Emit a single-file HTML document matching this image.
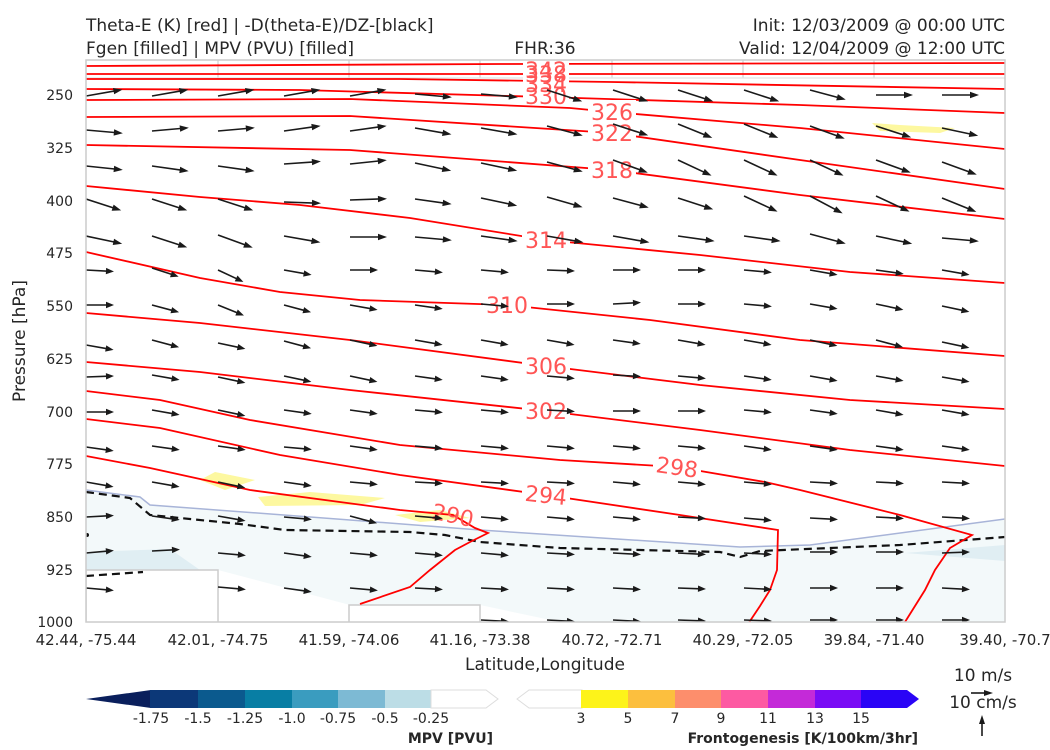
<!DOCTYPE html>
<html><head><meta charset="utf-8">
<style>
html,body{margin:0;padding:0;background:#fff;}
svg{display:block;font-family:"DejaVu Sans","Liberation Sans",sans-serif;}
</style></head>
<body>
<svg width="1050" height="750" viewBox="0 0 1050 750" xmlns="http://www.w3.org/2000/svg">
<defs>
<g id="aL"><line x1="0" y1="0" x2="30" y2="0" stroke="#1a1a1a" stroke-width="1.6"/><path d="M28,-3.2 L37,0 L28,3.2z" fill="#1a1a1a"/></g>
<g id="aS"><line x1="0" y1="0" x2="22" y2="0" stroke="#1a1a1a" stroke-width="1.6"/><path d="M20,-3.2 L28,0 L20,3.2z" fill="#1a1a1a"/></g>
<clipPath id="pc"><rect x="86" y="60" width="919" height="562"/></clipPath>
</defs>
<g fill="#262626" font-size="17">
<text x="86" y="31">Theta-E (K) [red] | -D(theta-E)/DZ-[black]</text>
<text x="86" y="54">Fgen [filled] | MPV (PVU) [filled]</text>
<text x="545" y="54" text-anchor="middle">FHR:36</text>
<text x="1005" y="31" text-anchor="end">Init: 12/03/2009 @ 00:00 UTC</text>
<text x="1005" y="54" text-anchor="end">Valid: 12/04/2009 @ 12:00 UTC</text>
</g>
<g clip-path="url(#pc)">
<polygon fill="#f3f9fa" points="86,490 140,497 150,505 350,520 480,530 740,547 810,545 1005,519 1005,622 560,622 480,605 350,605 218,570 86,587"/>
<polygon fill="#e0eef3" points="86,552 170,549 200,570 86,582"/>
<polygon fill="#e0eef3" points="905,553 1005,545 1005,561"/>
<polyline fill="none" stroke="#a8b4d8" stroke-width="1.5" points="86,490 140,497 150,505 350,520 480,530 740,547 810,545 1005,519"/>
<g fill="#fff" stroke="#cccccc" stroke-width="1.5">
<rect x="86" y="570" width="132" height="60"/>
<rect x="349" y="605" width="131" height="30"/>
</g>
<g stroke="#d0d0d0" stroke-width="1.2">
<line x1="218" y1="60" x2="218" y2="78"/><line x1="349" y1="60" x2="349" y2="78"/><line x1="480" y1="60" x2="480" y2="78"/><line x1="612" y1="60" x2="612" y2="78"/><line x1="743" y1="60" x2="743" y2="78"/><line x1="874" y1="60" x2="874" y2="78"/>
<line x1="86" y1="78" x2="1005" y2="78" stroke="#e4e4e4"/>
</g>
<g fill="#fdf8a0">
<polygon points="200,480 215,472 255,480 225,490"/>
<polygon points="258,497 310,492 385,498 360,505 265,506"/>
<polygon points="395,515 440,510 470,518 420,522"/>
<polygon points="872,123 900,125 955,128 940,133 880,131"/>
</g>
<g fill="none" stroke="#111" stroke-width="2.2" stroke-dasharray="8,5">
<polyline points="86,492 130,498 150,515 240,524 285,530 410,532 445,535 480,542 560,548 720,552 740,557 760,551 900,545 1005,537"/>
<polyline points="86,576 143,572"/>
</g>
<circle cx="87" cy="535" r="2" fill="#111"/>
<g fill="none" stroke="#ff0000" stroke-width="1.8">
<polyline points="86,66 500,64 1005,63"/>
<polyline points="86,74 500,74 1005,74"/>
<polyline points="86,79 400,79 612,82 1005,89"/>
<polyline points="86,89 300,90 545,97 800,105 1005,113"/>
<polyline points="86,100 350,99 570,108 612,112 800,128 1005,149"/>
<polyline points="86,117 350,116 612,133 800,160 1005,189"/>
<polyline points="86,145 350,150 612,170 800,195 1005,219"/>
<polyline points="86,186 200,197 300,205 410,218 546,240 700,255 850,272 1005,283"/>
<polyline points="86,252 200,278 280,292 360,300 507,305 650,320 800,340 1005,356"/>
<polyline points="86,313 200,323 350,340 546,366 700,385 850,400 1005,409"/>
<polyline points="86,362 200,372 350,390 546,411 700,430 850,450 1005,466"/>
<polyline points="86,391 160,400 250,420 400,445 560,460 677,467 765,482 800,490 900,515 972,535 950,548 935,570 925,590 905,622"/>
<polyline points="86,419 160,428 280,455 400,475 546,495 680,515 778,530 777,570 770,590 760,606 748,624"/>
<polyline points="86,456 150,468 250,490 400,510 453,515 475,528 488,533 470,542 455,550 430,570 410,587 360,604"/>
</g>
<g fill="#ff5555" font-size="22" text-anchor="middle">
<rect x="523" y="58" width="46" height="44" fill="#fff"/>
<text x="546" y="78">342</text><text x="546" y="82">338</text><text x="546" y="92">334</text><text x="546" y="104">330</text>
<rect x="588" y="100" width="48" height="24" fill="#fff"/><text x="612" y="120">326</text>
<rect x="588" y="121" width="48" height="24" fill="#fff"/><text x="612" y="141">322</text>
<rect x="588" y="158" width="48" height="24" fill="#fff"/><text x="612" y="178">318</text>
<rect x="522" y="228" width="48" height="24" fill="#fff"/><text x="546" y="248">314</text>
<rect x="483" y="293" width="48" height="24" fill="#fff"/><text x="507" y="313">310</text>
<rect x="522" y="354" width="48" height="24" fill="#fff"/><text x="546" y="374">306</text>
<rect x="522" y="399" width="48" height="24" fill="#fff"/><text x="546" y="419">302</text>
<rect x="653" y="455" width="48" height="24" fill="#fff"/><text x="677" y="475" transform="rotate(8 677 467)">298</text>
<rect x="522" y="483" width="48" height="24" fill="#fff"/><text x="546" y="503" transform="rotate(6 546 495)">294</text>
<text x="453" y="523" transform="rotate(12 453 515)">290</text>
</g>
<!-- arrows -->
<g>
<use href="#aL" transform="translate(86,96) rotate(-10)"/><use href="#aL" transform="translate(152,96) rotate(-10)"/><use href="#aL" transform="translate(218,96) rotate(-10)"/><use href="#aL" transform="translate(284,96) rotate(-10)"/><use href="#aL" transform="translate(350,96) rotate(-10)"/><use href="#aL" transform="translate(415,94) rotate(5)"/><use href="#aL" transform="translate(481,94) rotate(5)"/><use href="#aL" transform="translate(547,90) rotate(18)"/><use href="#aL" transform="translate(613,90) rotate(18)"/><use href="#aL" transform="translate(678,90) rotate(18)"/><use href="#aL" transform="translate(744,90) rotate(18)"/><use href="#aL" transform="translate(810,90) rotate(15)"/><use href="#aL" transform="translate(876,95) rotate(0)"/><use href="#aL" transform="translate(942,95) rotate(0)"/>
<use href="#aL" transform="translate(86,130) rotate(5)"/><use href="#aL" transform="translate(152,131) rotate(-5)"/><use href="#aL" transform="translate(218,131) rotate(-5)"/><use href="#aL" transform="translate(284,131) rotate(-8)"/><use href="#aL" transform="translate(350,131) rotate(-8)"/><use href="#aL" transform="translate(415,128) rotate(10)"/><use href="#aL" transform="translate(481,128) rotate(10)"/><use href="#aL" transform="translate(547,126) rotate(15)"/><use href="#aL" transform="translate(613,124) rotate(18)"/><use href="#aL" transform="translate(678,124) rotate(22)"/><use href="#aL" transform="translate(744,124) rotate(22)"/><use href="#aL" transform="translate(810,126) rotate(20)"/><use href="#aL" transform="translate(876,126) rotate(18)"/><use href="#aL" transform="translate(942,128) rotate(12)"/>
<use href="#aL" transform="translate(86,166) rotate(6)"/><use href="#aL" transform="translate(152,166) rotate(8)"/><use href="#aL" transform="translate(218,166) rotate(8)"/><use href="#aL" transform="translate(284,164) rotate(-4)"/><use href="#aL" transform="translate(350,164) rotate(-6)"/><use href="#aL" transform="translate(415,163) rotate(12)"/><use href="#aL" transform="translate(481,163) rotate(12)"/><use href="#aL" transform="translate(547,162) rotate(15)"/><use href="#aL" transform="translate(613,160) rotate(20)"/><use href="#aL" transform="translate(678,160) rotate(25)"/><use href="#aL" transform="translate(744,160) rotate(25)"/><use href="#aL" transform="translate(810,160) rotate(25)"/><use href="#aL" transform="translate(876,160) rotate(20)"/><use href="#aL" transform="translate(942,162) rotate(20)"/>
<use href="#aL" transform="translate(86,199) rotate(18)"/><use href="#aL" transform="translate(152,199) rotate(18)"/><use href="#aL" transform="translate(218,199) rotate(18)"/><use href="#aL" transform="translate(284,202) rotate(2)"/><use href="#aL" transform="translate(350,200) rotate(-2)"/><use href="#aL" transform="translate(415,199) rotate(8)"/><use href="#aL" transform="translate(481,198) rotate(12)"/><use href="#aL" transform="translate(547,197) rotate(16)"/><use href="#aL" transform="translate(613,198) rotate(15)"/><use href="#aL" transform="translate(678,198) rotate(18)"/><use href="#aL" transform="translate(744,196) rotate(25)"/><use href="#aL" transform="translate(810,196) rotate(28)"/><use href="#aL" transform="translate(876,196) rotate(25)"/><use href="#aL" transform="translate(942,198) rotate(22)"/>
<use href="#aL" transform="translate(86,236) rotate(12)"/><use href="#aL" transform="translate(152,236) rotate(18)"/><use href="#aL" transform="translate(218,235) rotate(20)"/><use href="#aL" transform="translate(284,236) rotate(10)"/><use href="#aL" transform="translate(350,237) rotate(0)"/><use href="#aL" transform="translate(415,237) rotate(5)"/><use href="#aL" transform="translate(481,236) rotate(8)"/><use href="#aL" transform="translate(547,236) rotate(10)"/><use href="#aL" transform="translate(613,236) rotate(10)"/><use href="#aL" transform="translate(678,236) rotate(8)"/><use href="#aL" transform="translate(744,236) rotate(8)"/><use href="#aL" transform="translate(810,234) rotate(15)"/><use href="#aL" transform="translate(876,236) rotate(12)"/><use href="#aL" transform="translate(942,238) rotate(5)"/>
<use href="#aS" transform="translate(86,270) rotate(3)"/><use href="#aS" transform="translate(152,268) rotate(18)"/><use href="#aS" transform="translate(218,270) rotate(25)"/><use href="#aS" transform="translate(284,270) rotate(10)"/><use href="#aS" transform="translate(350,270) rotate(0)"/><use href="#aS" transform="translate(415,270) rotate(5)"/><use href="#aS" transform="translate(481,270) rotate(5)"/><use href="#aS" transform="translate(547,270) rotate(2)"/><use href="#aS" transform="translate(613,270) rotate(0)"/><use href="#aS" transform="translate(678,270) rotate(0)"/><use href="#aS" transform="translate(744,270) rotate(5)"/><use href="#aS" transform="translate(810,270) rotate(10)"/><use href="#aS" transform="translate(876,270) rotate(8)"/><use href="#aS" transform="translate(942,270) rotate(10)"/>
<use href="#aS" transform="translate(86,305) rotate(0)"/><use href="#aS" transform="translate(152,305) rotate(15)"/><use href="#aS" transform="translate(218,305) rotate(22)"/><use href="#aS" transform="translate(284,305) rotate(15)"/><use href="#aS" transform="translate(350,305) rotate(10)"/><use href="#aS" transform="translate(415,305) rotate(8)"/><use href="#aS" transform="translate(481,304) rotate(5)"/><use href="#aS" transform="translate(547,304) rotate(0)"/><use href="#aS" transform="translate(613,304) rotate(-3)"/><use href="#aS" transform="translate(678,304) rotate(0)"/><use href="#aS" transform="translate(744,304) rotate(5)"/><use href="#aS" transform="translate(810,304) rotate(10)"/><use href="#aS" transform="translate(876,304) rotate(12)"/><use href="#aS" transform="translate(942,306) rotate(12)"/>
<use href="#aS" transform="translate(86,345) rotate(10)"/><use href="#aS" transform="translate(152,340) rotate(15)"/><use href="#aS" transform="translate(218,343) rotate(12)"/><use href="#aS" transform="translate(284,341) rotate(15)"/><use href="#aS" transform="translate(350,340) rotate(12)"/><use href="#aS" transform="translate(415,340) rotate(10)"/><use href="#aS" transform="translate(481,340) rotate(10)"/><use href="#aS" transform="translate(547,340) rotate(10)"/><use href="#aS" transform="translate(613,340) rotate(8)"/><use href="#aS" transform="translate(678,340) rotate(10)"/><use href="#aS" transform="translate(744,340) rotate(10)"/><use href="#aS" transform="translate(810,340) rotate(12)"/><use href="#aS" transform="translate(876,340) rotate(15)"/><use href="#aS" transform="translate(942,342) rotate(12)"/>
<use href="#aS" transform="translate(86,377) rotate(-2)"/><use href="#aS" transform="translate(152,375) rotate(10)"/><use href="#aS" transform="translate(218,377) rotate(12)"/><use href="#aS" transform="translate(284,376) rotate(12)"/><use href="#aS" transform="translate(350,376) rotate(12)"/><use href="#aS" transform="translate(415,376) rotate(8)"/><use href="#aS" transform="translate(481,376) rotate(8)"/><use href="#aS" transform="translate(547,376) rotate(5)"/><use href="#aS" transform="translate(613,375) rotate(3)"/><use href="#aS" transform="translate(678,376) rotate(5)"/><use href="#aS" transform="translate(744,376) rotate(8)"/><use href="#aS" transform="translate(810,376) rotate(10)"/><use href="#aS" transform="translate(876,376) rotate(10)"/><use href="#aS" transform="translate(942,377) rotate(10)"/>
<use href="#aS" transform="translate(86,412) rotate(0)"/><use href="#aS" transform="translate(152,410) rotate(10)"/><use href="#aS" transform="translate(218,410) rotate(12)"/><use href="#aS" transform="translate(284,410) rotate(8)"/><use href="#aS" transform="translate(350,410) rotate(8)"/><use href="#aS" transform="translate(415,410) rotate(5)"/><use href="#aS" transform="translate(481,410) rotate(5)"/><use href="#aS" transform="translate(547,410) rotate(3)"/><use href="#aS" transform="translate(613,411) rotate(0)"/><use href="#aS" transform="translate(678,411) rotate(0)"/><use href="#aS" transform="translate(744,410) rotate(5)"/><use href="#aS" transform="translate(810,410) rotate(8)"/><use href="#aS" transform="translate(876,410) rotate(10)"/><use href="#aS" transform="translate(942,410) rotate(10)"/>
<use href="#aS" transform="translate(86,447) rotate(8)"/><use href="#aS" transform="translate(152,446) rotate(8)"/><use href="#aS" transform="translate(218,446) rotate(8)"/><use href="#aS" transform="translate(284,447) rotate(5)"/><use href="#aS" transform="translate(350,446) rotate(8)"/><use href="#aS" transform="translate(415,446) rotate(5)"/><use href="#aS" transform="translate(481,446) rotate(5)"/><use href="#aS" transform="translate(547,446) rotate(5)"/><use href="#aS" transform="translate(613,446) rotate(5)"/><use href="#aS" transform="translate(678,446) rotate(5)"/><use href="#aS" transform="translate(744,446) rotate(8)"/><use href="#aS" transform="translate(810,446) rotate(8)"/><use href="#aS" transform="translate(876,446) rotate(8)"/><use href="#aS" transform="translate(942,446) rotate(8)"/>
<use href="#aS" transform="translate(86,482) rotate(10)"/><use href="#aS" transform="translate(152,482) rotate(10)"/><use href="#aS" transform="translate(218,482) rotate(12)"/><use href="#aS" transform="translate(284,482) rotate(8)"/><use href="#aS" transform="translate(350,482) rotate(5)"/><use href="#aS" transform="translate(415,482) rotate(3)"/><use href="#aS" transform="translate(481,482) rotate(3)"/><use href="#aS" transform="translate(547,482) rotate(3)"/><use href="#aS" transform="translate(613,482) rotate(5)"/><use href="#aS" transform="translate(678,482) rotate(5)"/><use href="#aS" transform="translate(744,482) rotate(5)"/><use href="#aS" transform="translate(810,482) rotate(3)"/><use href="#aS" transform="translate(876,482) rotate(3)"/><use href="#aS" transform="translate(942,482) rotate(3)"/>
<use href="#aS" transform="translate(86,517) rotate(-3)"/><use href="#aS" transform="translate(152,516) rotate(8)"/><use href="#aS" transform="translate(218,516) rotate(10)"/><use href="#aS" transform="translate(284,517) rotate(5)"/><use href="#aS" transform="translate(350,516) rotate(15)"/><use href="#aS" transform="translate(415,516) rotate(5)"/><use href="#aS" transform="translate(481,517) rotate(5)"/><use href="#aS" transform="translate(547,517) rotate(5)"/><use href="#aS" transform="translate(613,517) rotate(5)"/><use href="#aS" transform="translate(678,517) rotate(3)"/><use href="#aS" transform="translate(744,518) rotate(5)"/><use href="#aS" transform="translate(810,518) rotate(3)"/><use href="#aS" transform="translate(876,517) rotate(3)"/><use href="#aS" transform="translate(942,517) rotate(3)"/>
<use href="#aS" transform="translate(86,553) rotate(-5)"/><use href="#aS" transform="translate(152,551) rotate(-3)"/><use href="#aS" transform="translate(218,553) rotate(5)"/><use href="#aS" transform="translate(284,553) rotate(8)"/><use href="#aS" transform="translate(350,553) rotate(5)"/><use href="#aS" transform="translate(415,553) rotate(5)"/><use href="#aS" transform="translate(481,553) rotate(5)"/><use href="#aS" transform="translate(547,553) rotate(3)"/><use href="#aS" transform="translate(613,553) rotate(3)"/><use href="#aS" transform="translate(678,553) rotate(3)"/><use href="#aS" transform="translate(744,553) rotate(3)"/><use href="#aS" transform="translate(810,552) rotate(0)"/><use href="#aS" transform="translate(876,552) rotate(0)"/><use href="#aS" transform="translate(942,553) rotate(-2)"/>
<use href="#aS" transform="translate(86,588) rotate(5)"/><use href="#aS" transform="translate(218,587) rotate(5)"/><use href="#aS" transform="translate(284,588) rotate(8)"/><use href="#aS" transform="translate(350,588) rotate(5)"/><use href="#aS" transform="translate(415,588) rotate(3)"/><use href="#aS" transform="translate(481,588) rotate(3)"/><use href="#aS" transform="translate(547,588) rotate(3)"/><use href="#aS" transform="translate(613,588) rotate(3)"/><use href="#aS" transform="translate(678,588) rotate(2)"/><use href="#aS" transform="translate(744,588) rotate(3)"/><use href="#aS" transform="translate(810,588) rotate(0)"/><use href="#aS" transform="translate(876,588) rotate(0)"/><use href="#aS" transform="translate(942,588) rotate(3)"/>
<use href="#aS" transform="translate(481,620) rotate(3)"/><use href="#aS" transform="translate(547,620) rotate(3)"/><use href="#aS" transform="translate(613,620) rotate(3)"/><use href="#aS" transform="translate(678,620) rotate(2)"/><use href="#aS" transform="translate(744,620) rotate(2)"/><use href="#aS" transform="translate(810,620) rotate(0)"/><use href="#aS" transform="translate(876,620) rotate(0)"/><use href="#aS" transform="translate(942,620) rotate(0)"/>
</g>
</g>
<rect x="86" y="60" width="919" height="562" fill="none" stroke="#cccccc" stroke-width="1.5"/>
<g fill="#262626" font-size="14" text-anchor="end">
<text x="73" y="100">250</text><text x="73" y="153">325</text><text x="73" y="206">400</text><text x="73" y="258">475</text><text x="73" y="311">550</text><text x="73" y="364">625</text><text x="73" y="417">700</text><text x="73" y="469">775</text><text x="73" y="522">850</text><text x="73" y="575">925</text><text x="73" y="627">1000</text>
</g>
<text x="25" y="341" font-size="17" fill="#262626" text-anchor="middle" transform="rotate(-90 25 341)">Pressure [hPa]</text>
<g fill="#262626" font-size="15" text-anchor="middle">
<text x="86" y="645">42.44, -75.44</text><text x="218" y="645">42.01, -74.75</text><text x="349" y="645">41.59, -74.06</text><text x="480" y="645">41.16, -73.38</text><text x="612" y="645">40.72, -72.71</text><text x="743" y="645">40.29, -72.05</text><text x="874" y="645">39.84, -71.40</text><text x="1005" y="645">39.40, -70.7</text>
</g>
<text x="545" y="670" font-size="17" fill="#262626" text-anchor="middle">Latitude,Longitude</text>
<polygon points="86,699 151,690 151,708" fill="#0a1f5c"/>
<rect x="150" y="690" width="49" height="18" fill="#0c3878"/>
<rect x="198" y="690" width="48" height="18" fill="#0b5a8e"/>
<rect x="245" y="690" width="48" height="18" fill="#087ea4"/>
<rect x="292" y="690" width="47" height="18" fill="#3a9cbf"/>
<rect x="338" y="690" width="48" height="18" fill="#7dbad4"/>
<rect x="385" y="690" width="47" height="18" fill="#bcdde6"/>
<polygon points="431,690 486,690 498,699 486,708 431,708" fill="#fff" stroke="#ddd" stroke-width="1"/>
<g fill="#262626" font-size="14" text-anchor="middle">
<text x="151" y="723">-1.75</text><text x="198" y="723">-1.5</text><text x="245" y="723">-1.25</text><text x="292" y="723">-1.0</text><text x="338" y="723">-0.75</text><text x="385" y="723">-0.5</text><text x="431" y="723">-0.25</text>
</g>
<text x="493" y="743" font-size="14" font-weight="bold" fill="#262626" text-anchor="end">MPV [PVU]</text>
<polygon points="517,699 529,690 582,690 582,708 529,708" fill="#fff" stroke="#ddd" stroke-width="1"/>
<rect x="581" y="690" width="48" height="18" fill="#fdf31a"/>
<rect x="628" y="690" width="48" height="18" fill="#fcbf3e"/>
<rect x="675" y="690" width="47" height="18" fill="#fd8e6c"/>
<rect x="721" y="690" width="48" height="18" fill="#fd5aa2"/>
<rect x="768" y="690" width="48" height="18" fill="#c42ad8"/>
<rect x="815" y="690" width="47" height="18" fill="#7a0cf5"/>
<polygon points="861,690 907,690 919,699 907,708 861,708" fill="#2a04f6"/>
<g fill="#262626" font-size="14" text-anchor="middle">
<text x="581" y="723">3</text><text x="628" y="723">5</text><text x="675" y="723">7</text><text x="721" y="723">9</text><text x="768" y="723">11</text><text x="815" y="723">13</text><text x="861" y="723">15</text>
</g>
<text x="918" y="743" font-size="14" font-weight="bold" fill="#262626" text-anchor="end">Frontogenesis [K/100km/3hr]</text>
<text x="983" y="681" font-size="17" fill="#262626" text-anchor="middle">10 m/s</text>
<line x1="971" y1="693" x2="986" y2="693" stroke="#1a1a1a" stroke-width="1.6"/><path d="M984,690 L993,693 L984,696z" fill="#1a1a1a"/>
<text x="983" y="708" font-size="17" fill="#262626" text-anchor="middle">10 cm/s</text>
<line x1="982" y1="736" x2="982" y2="722" stroke="#1a1a1a" stroke-width="1.6"/><path d="M979,724 L982,715 L985,724z" fill="#1a1a1a"/>
</svg>
</body></html>
